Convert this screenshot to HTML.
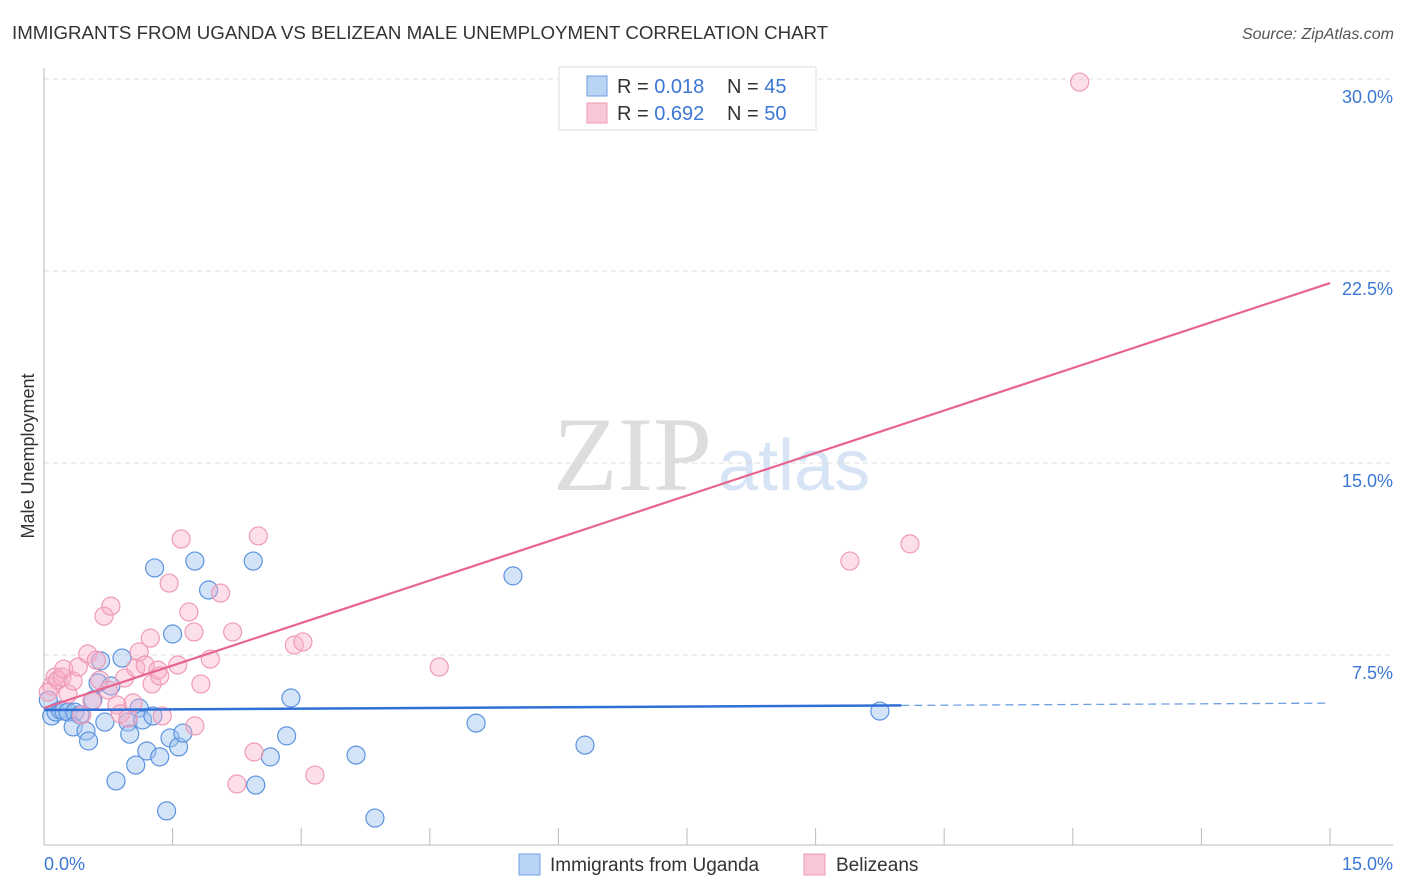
<!DOCTYPE html>
<html><head><meta charset="utf-8"><style>
body{margin:0;background:#fff;font-family:"Liberation Sans",sans-serif;}
svg{display:block}
</style></head><body>
<svg id="chart" width="1406" height="892" xmlns="http://www.w3.org/2000/svg">
<text x="12" y="39" font-size="18.7" fill="#333">IMMIGRANTS FROM UGANDA VS BELIZEAN MALE UNEMPLOYMENT CORRELATION CHART</text>
<text x="1394" y="39" font-size="16" fill="#555" font-style="italic" text-anchor="end">Source: ZipAtlas.com</text>
<text x="553" y="490" font-size="106" fill="#ddd" font-family="Liberation Serif,serif">ZIP</text>
<text x="718" y="490" font-size="72" fill="#d6e4f5">atlas</text>
<text transform="translate(34,456) rotate(-90)" font-size="18" fill="#333" text-anchor="middle">Male Unemployment</text>
<g id="grid"></g><g id="axes"></g><g id="pts"></g><g id="lines"></g>
<g>
<rect x="559" y="67" width="257" height="63" fill="#fff" stroke="#ddd"/>
<rect x="587" y="76" width="20" height="20" fill="#b9d3f5" stroke="#6f9fe0"/>
<rect x="587" y="103" width="20" height="20" fill="#f9c6d6" stroke="#ec9ab5"/>
<text x="617" y="93" font-size="20" fill="#333">R = <tspan fill="#3b77d4">0.018</tspan><tspan x="727">N = </tspan><tspan fill="#3b77d4">45</tspan></text>
<text x="617" y="120" font-size="20" fill="#333">R = <tspan fill="#3b77d4">0.692</tspan><tspan x="727">N = </tspan><tspan fill="#3b77d4">50</tspan></text>
</g>
<g>
<rect x="519" y="854" width="21" height="21" fill="#b9d3f5" stroke="#6f9fe0"/>
<text x="550" y="871" font-size="19" fill="#333">Immigrants from Uganda</text>
<rect x="804" y="854" width="21" height="21" fill="#f9c6d6" stroke="#ec9ab5"/>
<text x="836" y="871" font-size="19" fill="#333">Belizeans</text>
</g>
</svg>
<script>
const yTicks=[7.5,15,22.5,30];
const yTickLabels=["7.5%","15.0%","22.5%","30.0%"];
const xTicks=[0,1.5,3,4.5,6,7.5,9,10.5,12,13.5,15];
const blueX=[0.09,0.14,0.19,0.23,0.28,0.36,0.42,0.34,0.49,0.52,0.57,0.66,0.63,0.71,0.78,0.84,0.91,0.98,1.00,1.07,1.11,1.15,1.20,1.27,1.29,1.35,1.43,1.47,1.50,1.57,1.62,1.76,1.92,2.44,2.47,2.64,2.83,2.88,3.64,3.86,5.04,5.47,6.31,9.75,0.05];
const blueY=[5.12,5.27,5.35,5.31,5.27,5.27,5.16,4.69,4.53,4.14,5.74,7.27,6.41,4.88,6.29,2.58,7.38,4.88,4.41,3.20,5.43,4.96,3.75,5.12,10.90,3.52,1.41,4.26,8.32,3.91,4.45,11.17,10.04,11.17,2.42,3.52,4.34,5.82,3.59,1.13,4.84,10.59,3.98,5.31,5.74];
const pinkX=[0.09,0.13,0.16,0.21,0.23,0.28,0.34,0.40,0.44,0.51,0.56,0.61,0.65,0.70,0.78,0.75,0.85,0.89,0.94,0.98,1.04,1.07,1.11,1.18,1.24,1.26,1.33,1.38,1.46,1.56,1.60,1.69,1.75,1.83,1.94,2.06,2.20,2.25,2.45,2.50,2.92,3.02,3.16,4.61,9.40,10.10,12.08,0.05,1.76,1.35];
const pinkY=[6.29,6.64,6.52,6.64,6.95,5.98,6.48,7.03,5.16,7.54,5.70,7.30,6.52,9.02,9.41,6.13,5.55,5.20,6.60,5.04,5.63,6.99,7.62,7.11,8.16,6.37,6.91,5.12,10.31,7.11,12.03,9.18,8.40,6.37,7.34,9.92,8.40,2.46,3.71,12.15,7.89,8.01,2.81,7.03,11.17,11.84,29.88,6.05,4.73,6.68];
const blueTrend=[5.35,5.62];
const pinkTrend=[5.43,22.03];
const NS="http://www.w3.org/2000/svg";
const X=v=>44+v*1286/15, Y=v=>847-v*25.6;
function mk(t,a,p){const e=document.createElementNS(NS,t);for(const k in a)e.setAttribute(k,a[k]);document.getElementById(p).appendChild(e);return e;}
yTicks.forEach((t,i)=>{
 const l=mk('line',{x1:44,x2:1393,y1:Y(t),y2:Y(t),stroke:'#ddd','stroke-dasharray':'5,4'},'grid');
 
 
 const tx=mk('text',{x:1393,y:Y(t)+24,'font-size':18,fill:'#3b77d4','text-anchor':'end'},'grid');
 tx.textContent=yTickLabels[i];
 
 
});
let a=mk('line',{x1:44,x2:44,y1:68,y2:845,stroke:'#bbb'},'axes');


a=mk('line',{x1:44,x2:1393,y1:845,y2:845,stroke:'#bbb'},'axes');


xTicks.forEach(t=>{const l=mk('line',{x1:X(t),x2:X(t),y1:828,y2:845,stroke:'#bbb'},'axes');
 
 });
let t0=mk('text',{x:44,y:870,'font-size':18,fill:'#3b77d4'},'axes');t0.textContent='0.0%';


let t1=mk('text',{x:1393,y:870,'font-size':18,fill:'#3b77d4','text-anchor':'end'},'axes');t1.textContent='15.0%';


blueX.forEach((x,i)=>{const c=mk('circle',{cx:X(x),cy:Y(blueY[i]),r:9,fill:'rgba(160,196,240,0.45)',stroke:'#5b93df','stroke-width':1.2},'pts');
 
 });
pinkX.forEach((x,i)=>{const c=mk('circle',{cx:X(x),cy:Y(pinkY[i]),r:9,fill:'rgba(247,176,200,0.4)',stroke:'#ef9ab6','stroke-width':1.2},'pts');
 
 });
const bAt=x=>blueTrend[0]+(blueTrend[1]-blueTrend[0])*x/15;
let l=mk('line',{x1:X(0),y1:Y(bAt(0)),x2:X(10),y2:Y(bAt(10)),stroke:'#2f6fd6','stroke-width':2.5},'lines');


l=mk('line',{x1:X(10),y1:Y(bAt(10)),x2:X(15),y2:Y(bAt(15)),stroke:'#6f9fe0','stroke-width':1.3,'stroke-dasharray':'8,5'},'lines');


l=mk('line',{x1:X(0),y1:Y(pinkTrend[0]),x2:X(15),y2:Y(pinkTrend[1]),stroke:'#e8648f','stroke-width':2.2},'lines');


</script>
</body></html>
